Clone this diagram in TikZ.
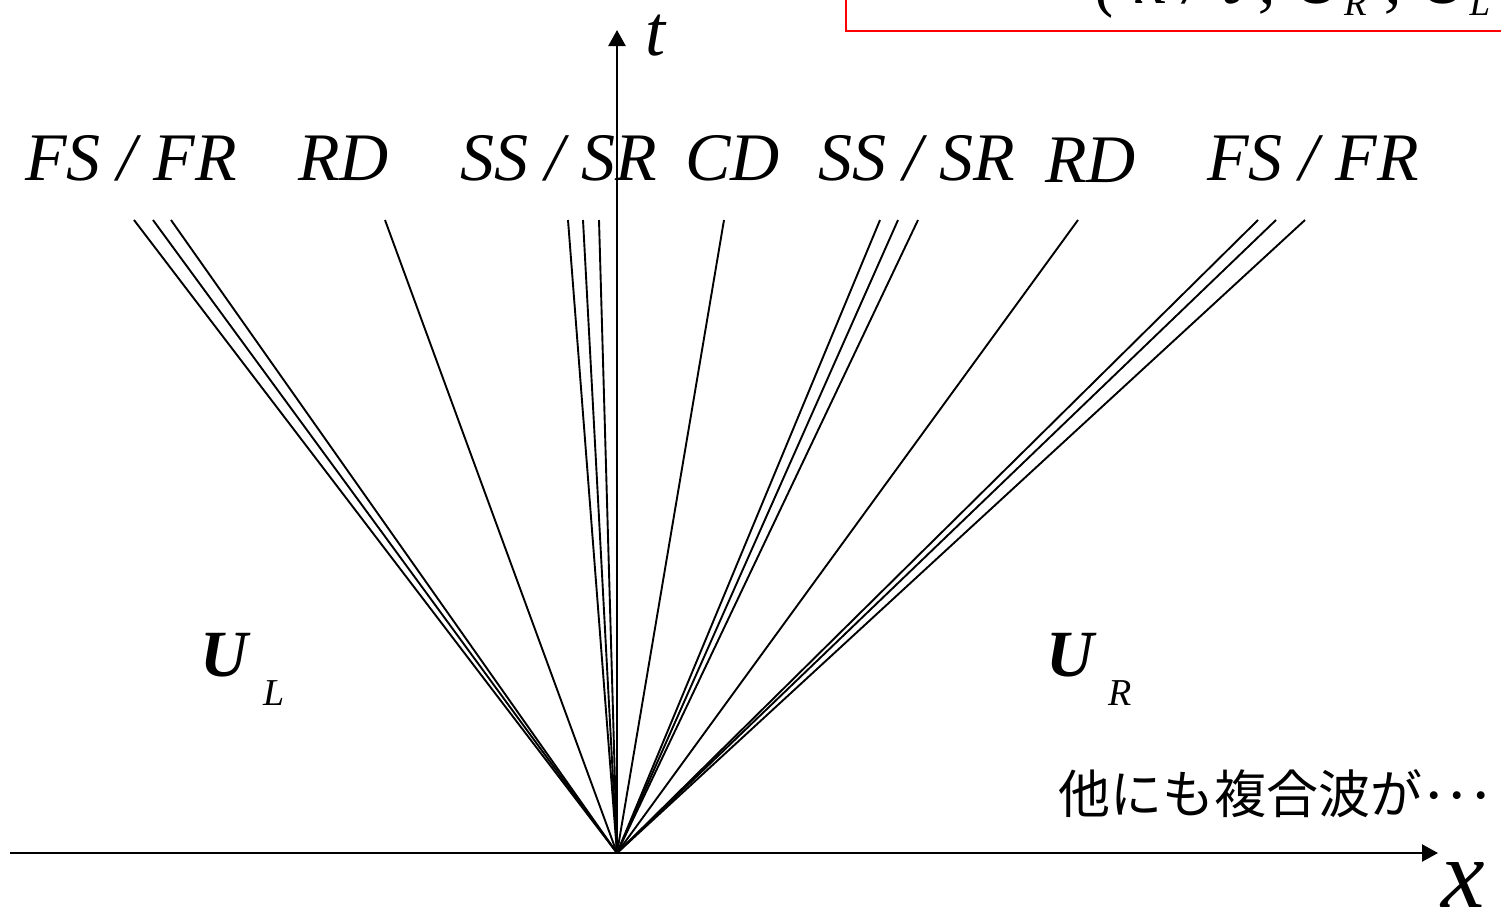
\documentclass[tikz,border=0pt]{standalone}
\usepackage{fontspec}
\setmainfont{Liberation Serif}
\newfontfamily\jpfont{Noto Sans CJK JP}
\usetikzlibrary{arrows.meta}
\tikzset{
  wave/.style={line width=1.9pt},
  axis/.style={line width=2.4pt,-{Triangle[length=16pt,width=17pt]}},
  lbl/.style={inner sep=0pt,anchor=base west,font=\fontsize{68}{70}\selectfont\itshape},
  bigU/.style={inner sep=0pt,anchor=base west,font=\fontsize{66}{68}\selectfont\bfseries\itshape},
  subs/.style={inner sep=0pt,anchor=base west,font=\fontsize{38}{40}\selectfont\itshape},
}
\begin{document}
\begin{tikzpicture}[x=1pt,y=-1pt]
\useasboundingbox (0,0) rectangle (1501,914);
% red box (partly outside)
\node[draw=red,line width=2pt,minimum width=720pt,minimum height=100pt,anchor=south west,inner sep=0pt] (box) at (845,32) {};
\node[inner sep=0pt,anchor=base west,font=\fontsize{70}{72}\selectfont\itshape] (formula) at (1095,3)
  {( x / t , {\bfseries U}\raisebox{-12pt}{\fontsize{37}{38}\selectfont R} , {\bfseries U}\raisebox{-12pt}{\fontsize{37}{38}\selectfont L} )};
% origin and axes
\coordinate (O) at (617,853);
\coordinate (xs) at (10,853);
\coordinate (xe) at (1438,853);
\coordinate (te) at (617,30);
\draw[axis] (xs) -- (xe);
\draw[axis] (O) -- (te);
\node[inner sep=0pt,anchor=base west,font=\fontsize{98}{100}\selectfont\itshape] (xl) at (1441,907) {x};
\node[inner sep=0pt,anchor=base west,font=\fontsize{72}{74}\selectfont\itshape] (tl) at (645,55) {t};
% wave ends
\foreach \n/\x in {a1/134,a2/153,a3/171,b/385,c1/568,c2/583,c3/599,d/724,e1/880,e2/898,e3/918,f/1078,g1/1258,g2/1276,g3/1305}
  {\coordinate (\n) at (\x,220);}
\foreach \n in {a1,a2,a3,b,c1,c2,c3,d,e1,e2,e3,f,g1,g2,g3}
  {\draw[wave] (O) -- (\n);}
% labels
\node[lbl] (L1) at (25,180) {FS / FR};
\node[lbl] (L2) at (298,180) {RD};
\node[lbl] (L3) at (460,180) {SS / SR};
\node[lbl] (L4) at (685,180) {CD};
\node[lbl] (L5) at (818,180) {SS / SR};
\node[lbl] (L6) at (1045,182) {RD};
\node[lbl] (L7) at (1207,180) {FS / FR};
% states
\node[bigU] (UL) at (200,676) {U};
\node[subs] (ULs) at (263,705) {L};
\node[bigU] (UR) at (1046,676) {U};
\node[subs] (URs) at (1108,705) {R};
% note
\node[inner sep=0pt,anchor=base west,font=\jpfont\fontsize{52}{54}\selectfont] (note) at (1058,813) {他にも複合波が{\fontsize{47}{48}\selectfont ･･･}};
\end{tikzpicture}
\end{document}
